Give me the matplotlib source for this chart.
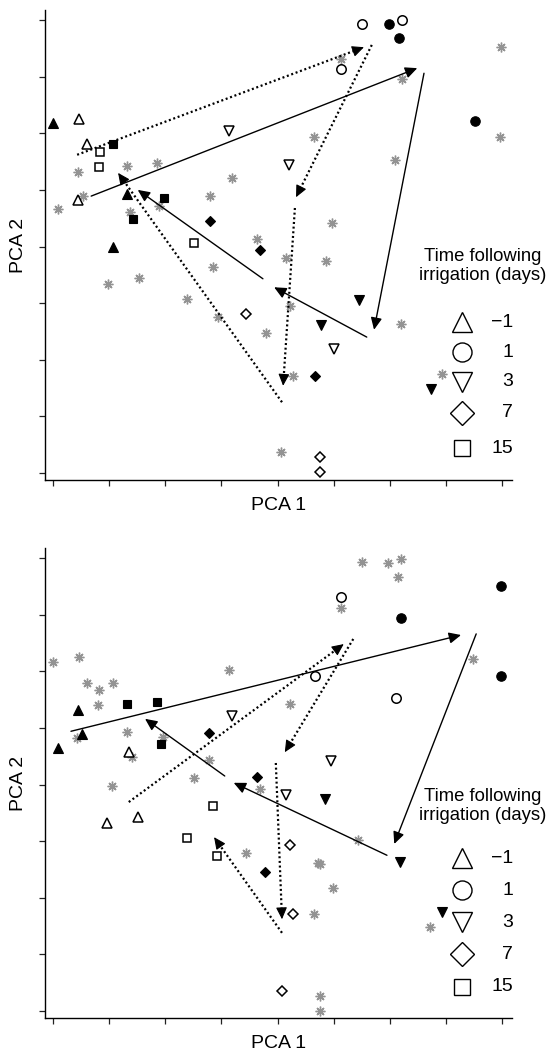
import math
import matplotlib
matplotlib.use('Agg')
import matplotlib.pyplot as plt
from matplotlib.patches import FancyArrowPatch

plt.rcParams['font.family'] = ['Liberation Sans', 'DejaVu Sans']

# ---------------- data: top panel ----------------
top_up_filled = [(0.00, 6.18), (1.32, 4.93), (1.07, 3.99)]
top_up_open = [(0.46, 6.25), (0.61, 5.81), (0.45, 4.82)]
top_circ_filled = [(5.99, 7.93), (6.16, 7.68), (7.52, 6.22)]
top_circ_open = [(5.51, 7.93), (6.22, 8.00), (5.13, 7.13)]
top_down_filled = [(5.45, 3.06), (4.78, 2.61), (6.73, 1.48)]
top_down_open = [(3.14, 6.04), (4.20, 5.44), (5.01, 2.19)]
top_diam_filled = [(2.80, 4.45), (3.69, 3.94), (4.67, 1.71)]
top_diam_open = [(3.44, 2.81), (4.76, 0.28), (4.76, 0.02)]
top_sq_filled = [(1.07, 5.81), (1.98, 4.86), (1.43, 4.49)]
top_sq_open = [(0.84, 5.67), (0.82, 5.40), (2.51, 4.06)]
top_stars = [(0.45, 5.32), (0.09, 4.66), (0.53, 4.89), (1.32, 5.42), (1.85, 5.47),
             (3.19, 5.21), (1.37, 4.61), (1.89, 4.72), (2.80, 4.89), (3.63, 4.13),
             (4.15, 3.80), (2.85, 3.64), (1.53, 3.44), (0.98, 3.34), (2.39, 3.07),
             (2.94, 2.75), (3.80, 2.47), (4.06, 0.37), (4.86, 3.74), (4.22, 2.95),
             (6.20, 2.63), (4.28, 1.71), (6.93, 1.75), (5.13, 7.31), (6.22, 6.96),
             (7.96, 5.93), (7.98, 7.52), (4.65, 5.93), (6.09, 5.53), (4.97, 4.42)]
top_solid_arrows = [((0.68, 4.89), (6.49, 7.15)), ((6.61, 7.06), (5.72, 2.53)),
                    ((5.59, 2.40), (3.94, 3.28)), ((3.74, 3.43), (1.51, 5.00))]
top_dotted_arrows = [((0.43, 5.62), (5.54, 7.52)), ((5.68, 7.56), (4.33, 4.87)),
                     ((4.31, 4.68), (4.10, 1.54)), ((4.08, 1.25), (1.16, 5.30))]

# ---------------- data: bottom panel ----------------
bot_up_filled = [(0.45, 5.32), (0.52, 4.89), (0.09, 4.64)]
bot_up_open = [(1.35, 4.57), (0.96, 3.32), (1.51, 3.43)]
bot_circ_filled = [(6.20, 6.94), (7.98, 7.51), (7.98, 5.92)]
bot_circ_open = [(5.13, 7.31), (4.67, 5.92), (6.11, 5.53)]
bot_down_filled = [(4.85, 3.74), (6.18, 2.63), (6.93, 1.75)]
bot_down_open = [(3.19, 5.21), (4.95, 4.42), (4.15, 3.81)]
bot_diam_filled = [(2.78, 4.91), (3.63, 4.13), (3.78, 2.45)]
bot_diam_open = [(4.22, 2.93), (4.28, 1.71), (4.08, 0.35)]
bot_sq_filled = [(1.32, 5.42), (1.85, 5.46), (1.92, 4.72)]
bot_sq_open = [(2.85, 3.62), (2.39, 3.06), (2.92, 2.74)]
bot_stars = [(0.00, 6.16), (0.46, 6.25), (0.61, 5.79), (0.82, 5.67), (1.07, 5.79),
             (0.80, 5.40), (3.14, 6.02), (0.43, 4.82), (1.32, 4.93), (1.96, 4.84),
             (1.41, 4.49), (2.78, 4.43), (2.51, 4.11), (1.05, 3.97), (3.44, 2.79),
             (3.69, 3.92), (4.72, 2.61), (5.51, 7.93), (5.97, 7.91), (6.20, 7.98),
             (6.15, 7.66), (5.13, 7.12), (7.48, 6.22), (4.22, 5.42), (5.43, 3.02),
             (4.76, 2.60), (4.99, 2.17), (4.65, 1.71), (6.72, 1.48), (4.76, 0.26),
             (4.76, 0.00)]
bot_solid_arrows = [((0.32, 4.94), (7.27, 6.64)), ((7.54, 6.66), (6.08, 2.95)),
                    ((5.95, 2.75), (3.22, 4.03)), ((3.06, 4.15), (1.64, 5.16))]
bot_dotted_arrows = [((1.35, 3.69), (5.18, 6.48)), ((5.35, 6.57), (4.13, 4.57)),
                     ((3.97, 4.38), (4.08, 1.62)), ((4.08, 1.38), (2.87, 3.07))]

legend_labels = ['\u22121', '1', '3', '7', '15']
legend_title = 'Time following\nirrigation (days)'
ticks = list(range(9))

# ---------------- styles ----------------
marker_styles = [('^', 6.5), ('o', 6.8), ('v', 6.5), ('D', 5.0), ('s', 5.3)]
legend_marker_sizes = [14.5, 13.7, 14.5, 12.0, 11.0]
STAR_COLOR = '#939393'
HEAD = '-|>,head_length=0.6,head_width=0.28'

W, H = 553, 1052
fig = plt.figure(figsize=(W / 100, H / 100), dpi=100)


def px_axes(left, top, right, bottom):
    return fig.add_axes([left / W, 1 - bottom / H, (right - left) / W, (bottom - top) / H])


def draw_panel(ax, groups, stars, solid_arrows, dotted_arrows, leg_y, title_y):
    ax.set_xlim(-0.1425, 8.178)
    ax.set_ylim(-0.124, 8.177)
    for s in ['top', 'right']:
        ax.spines[s].set_visible(False)
    for s in ['left', 'bottom']:
        ax.spines[s].set_linewidth(1.0)
    ax.set_xticks(ticks)
    ax.set_yticks(ticks)
    ax.set_xticklabels([])
    ax.set_yticklabels([])
    ax.tick_params(direction='out', length=4.5, width=0.9, color='#222222')

    sx, sy = zip(*stars)
    ax.plot(sx, sy, linestyle='none', marker=(8, 2, 0), ms=7, mec=STAR_COLOR,
            mew=1.0, zorder=2)

    for (filled, opened), (mk, ms) in zip(groups, marker_styles):
        fx, fy = zip(*filled)
        ax.plot(fx, fy, linestyle='none', marker=mk, ms=ms, mfc='black', mec='black',
                mew=0.8, zorder=4)
        ox, oy = zip(*opened)
        ax.plot(ox, oy, linestyle='none', marker=mk, ms=ms, mfc='white', mec='black',
                mew=1.1, zorder=4)

    for (a, b) in solid_arrows:
        ax.add_patch(FancyArrowPatch(a, b, arrowstyle=HEAD, mutation_scale=12, lw=1.0,
                                     color='black', shrinkA=0, shrinkB=0, zorder=3))
    for (a, b) in dotted_arrows:
        dx, dy = b[0] - a[0], b[1] - a[1]
        d = math.hypot(dx, dy)
        ux, uy = dx / d, dy / d
        # dotted shaft ending under the head
        ax.plot([a[0], b[0] - 0.1 * ux], [a[1], b[1] - 0.1 * uy], color='black',
                lw=1.6, linestyle=(0, (0.9, 1.2)), zorder=3)
        # solid filled head
        ax.add_patch(FancyArrowPatch((b[0] - 0.12 * ux, b[1] - 0.12 * uy), b,
                                     arrowstyle=HEAD, mutation_scale=12, lw=0.8,
                                     color='black', shrinkA=0, shrinkB=0, zorder=3))

    # legend
    ax.text(0.938, title_y, legend_title, transform=ax.transAxes, ha='center',
            va='center', fontsize=13.3, linespacing=1.15)
    for (mk, _), lms, lab, yy in zip(marker_styles, legend_marker_sizes, legend_labels, leg_y):
        ax.plot([0.893], [yy], transform=ax.transAxes, marker=mk, ms=lms, mfc='white',
                mec='black', mew=1.0, linestyle='none', clip_on=False)
        ax.text(1.002, yy, lab, transform=ax.transAxes, ha='right', va='center',
                fontsize=14)

    ax.text(0.5, -0.054, 'PCA 1', transform=ax.transAxes, ha='center', va='center',
            fontsize=14)
    ax.text(-0.056, 0.5, 'PCA 2', transform=ax.transAxes, ha='center', va='center',
            rotation=90, fontsize=14)


ax1 = px_axes(45, 10, 512, 480)
top_groups = [(top_up_filled, top_up_open), (top_circ_filled, top_circ_open),
              (top_down_filled, top_down_open), (top_diam_filled, top_diam_open),
              (top_sq_filled, top_sq_open)]
draw_panel(ax1, top_groups, top_stars, top_solid_arrows, top_dotted_arrows,
           [0.336, 0.272, 0.209, 0.143, 0.068], 0.455)

ax2 = px_axes(45, 548, 512, 1018)
bot_groups = [(bot_up_filled, bot_up_open), (bot_circ_filled, bot_circ_open),
              (bot_down_filled, bot_down_open), (bot_diam_filled, bot_diam_open),
              (bot_sq_filled, bot_sq_open)]
draw_panel(ax2, bot_groups, bot_stars, bot_solid_arrows, bot_dotted_arrows,
           [0.340, 0.272, 0.204, 0.136, 0.066], 0.452)

fig.savefig('out.png', dpi=100)
